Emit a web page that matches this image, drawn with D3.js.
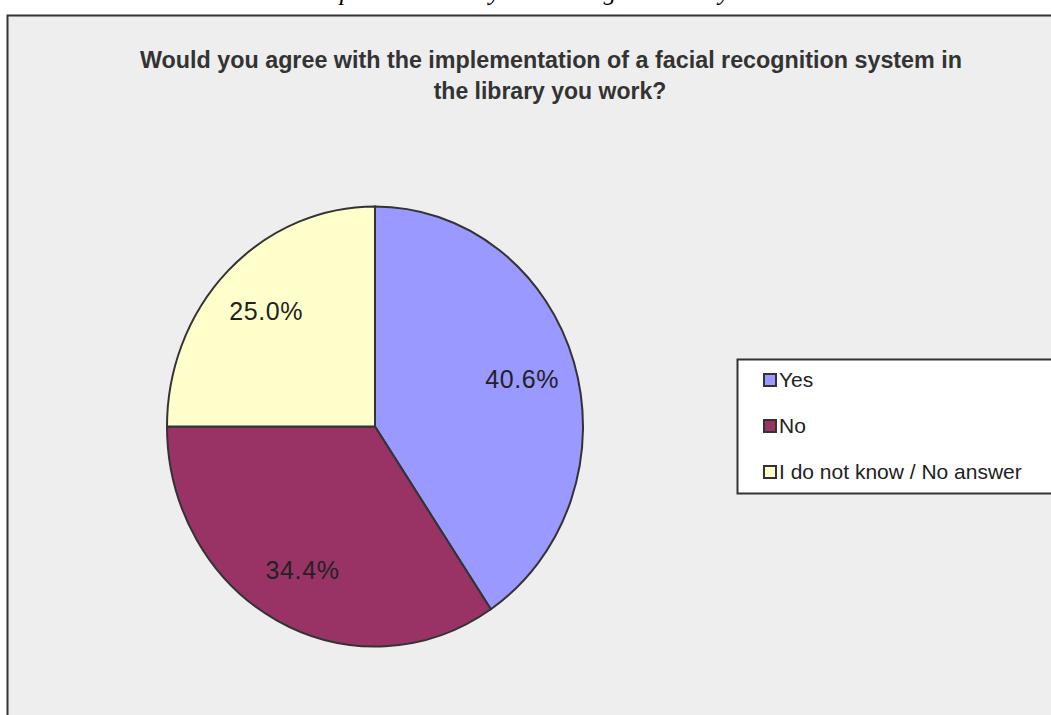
<!DOCTYPE html>
<html>
<head>
<meta charset="utf-8">
<script src="https://cdn.jsdelivr.net/npm/d3@7"></script>
<style>
  body { margin: 0; background: #ffffff; }
  svg { display: block; }
</style>
</head>
<body>
<div id="viz_container"></div>
<script>
// chart data
const categories = ["Yes", "No", "I do not know / No answer"];
const shares = [40.6, 34.4, 25.0];
const sliceLabels = ["40.6%", "34.4%", "25.0%"];
const titleLines = [
    "Would you agree with the implementation of a facial recognition system in",
    "the library you work?"
];
const captionText = "Librarians' opinion on the system's usage in library";

const width = 1051;
const height = 715;

const svg = d3.select("#viz_container")
    .append("svg")
    .attr("width", width)
    .attr("height", height);

// caption of the document, cut off by the top edge as in the source
svg.append("text")
    .attr("x", 207)
    .attr("y", 0)
    .attr("font-family", "'Liberation Serif', 'Times New Roman', serif")
    .attr("font-style", "italic")
    .attr("font-size", 25.3)
    .attr("fill", "#000")
    .text(captionText);

// grey chart area
svg.append("rect")
    .attr("x", 7.5)
    .attr("y", 15.5)
    .attr("width", 1100)
    .attr("height", 800)
    .attr("fill", "#eeeeee")
    .attr("stroke", "#333")
    .attr("stroke-width", 2);

// title
const title = svg.append("g")
    .attr("font-family", "'Liberation Sans', Arial, sans-serif")
    .attr("font-weight", "bold")
    .attr("font-size", 23)
    .attr("fill", "#333")
    .attr("text-anchor", "middle");

title.append("text")
    .attr("x", 551)
    .attr("y", 68)
    .attr("textLength", 822)
    .attr("lengthAdjust", "spacingAndGlyphs")
    .text(titleLines[0]);

title.append("text")
    .attr("x", 550)
    .attr("y", 99)
    .text(titleLines[1]);

// pie (slightly taller than wide, as in the source)
const color = d3.scaleOrdinal()
    .domain(categories)
    .range(["#9999ff", "#993366", "#ffffcc"]);

const cx = 375, cy = 426.5, rx = 208, ry = 220;

const pie = d3.pie().sort(null).value(d => d.value);
const arcs = pie(categories.map((c, i) => ({ name: c, value: shares[i], label: sliceLabels[i] })));

const arc = d3.arc().innerRadius(0).outerRadius(rx);
const labelArc = d3.arc().innerRadius(rx * 0.74).outerRadius(rx * 0.74);

svg.append("g")
    .attr("transform", `translate(${cx}, ${cy}) scale(1, ${ry / rx})`)
    .selectAll("path")
    .data(arcs)
    .join("path")
    .attr("d", arc)
    .attr("fill", d => color(d.data.name))
    .attr("stroke", "#333")
    .attr("stroke-width", 2)
    .attr("vector-effect", "non-scaling-stroke");

svg.append("g")
    .selectAll("text")
    .data(arcs)
    .join("text")
    .attr("x", d => cx + labelArc.centroid(d)[0])
    .attr("y", d => cy + labelArc.centroid(d)[1] * ry / rx)
    .attr("dy", "0.36em")
    .attr("text-anchor", "middle")
    .attr("font-family", "'Liberation Sans', Arial, sans-serif")
    .attr("font-size", 25)
    .attr("letter-spacing", 0.6)
    .attr("fill", "#222")
    .text(d => d.data.label);

// legend
const legend = svg.append("g");

legend.append("rect")
    .attr("x", 737.5)
    .attr("y", 359.5)
    .attr("width", 400)
    .attr("height", 134)
    .attr("fill", "#ffffff")
    .attr("stroke", "#333")
    .attr("stroke-width", 2);

const legendY = d3.scalePoint()
    .domain(categories)
    .range([387, 479]);

const items = legend.selectAll("g.item")
    .data(categories)
    .join("g")
    .attr("class", "item")
    .attr("transform", d => `translate(0, ${legendY(d)})`);

items.append("rect")
    .attr("x", 764)
    .attr("y", -13)
    .attr("width", 12)
    .attr("height", 12)
    .attr("fill", d => color(d))
    .attr("stroke", "#333")
    .attr("stroke-width", 2);

items.append("text")
    .attr("x", 779)
    .attr("y", 0)
    .attr("font-family", "'Liberation Sans', Arial, sans-serif")
    .attr("font-size", 21)
    .attr("fill", "#222")
    .text(d => d);
</script>
</body>
</html>
